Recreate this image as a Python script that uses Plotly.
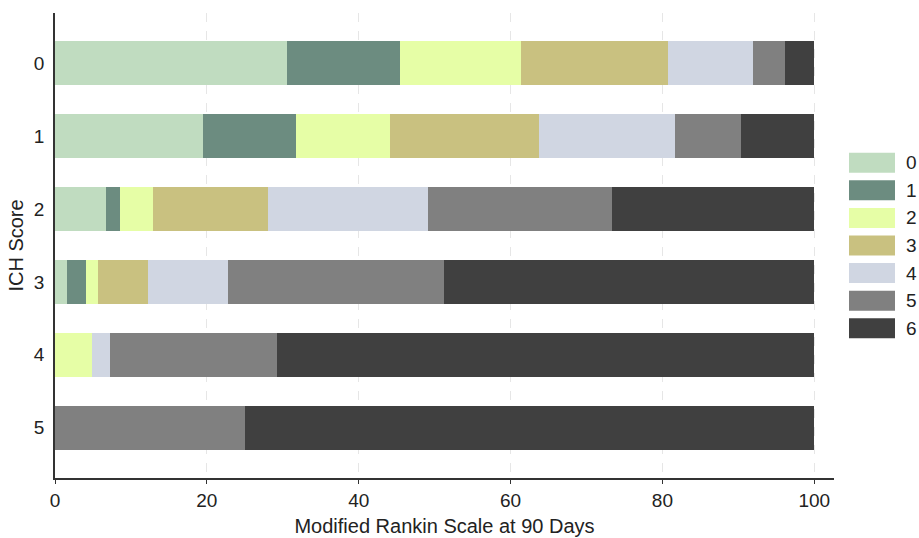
import plotly.graph_objects as go

# ICH score groups (rows) and modified Rankin Scale outcome categories (stacked)
ich_scores = [0, 1, 2, 3, 4, 5]
mrs_levels = ["0", "1", "2", "3", "4", "5", "6"]

# Percentage of patients in each mRS category, per ICH score
mrs0 = [30.5, 19.5, 6.7, 1.6, 0.0, 0.0]
mrs1 = [14.9, 12.2, 1.8, 2.5, 0.0, 0.0]
mrs2 = [16.0, 12.4, 4.4, 1.6, 4.9, 0.0]
mrs3 = [19.4, 19.7, 15.2, 6.5, 0.0, 0.0]
mrs4 = [11.1, 17.8, 21.0, 10.6, 2.4, 0.0]
mrs5 = [4.3, 8.7, 24.2, 28.4, 22.0, 25.0]
mrs6 = [3.8, 9.7, 26.7, 48.8, 70.7, 75.0]

series = [mrs0, mrs1, mrs2, mrs3, mrs4, mrs5, mrs6]
colors = ["#c0dcc0", "#6c8c80", "#e6fea6", "#c9c180", "#d0d6e2", "#808080", "#404040"]

x_ticks = [0, 20, 40, 60, 80, 100]

FONT = "Liberation Sans, Arial, Helvetica, sans-serif"
TEXT = "#222222"
W, H = 919, 538
ML, MR, MT, MB = 55, 85, 13, 60

fig = go.Figure()
for name, vals, col in zip(mrs_levels, series, colors):
    fig.add_trace(go.Bar(
        y=ich_scores, x=vals, name=name, orientation="h",
        marker=dict(color=col, line=dict(width=0)),
        width=0.6, showlegend=False,
    ))

# Legend drawn as wide swatches on the right
plot_w = W - ML - MR
plot_h = H - MT - MB
def px_to_paper_x(px):
    return (px - ML) / plot_w
def px_to_paper_y(py):
    return (H - MB - py) / plot_h

shapes = []
annotations = []
first_center, step = 162.7, 27.6
for i, (name, col) in enumerate(zip(mrs_levels, colors)):
    cy = first_center + i * step
    shapes.append(dict(
        type="rect", xref="paper", yref="paper",
        x0=px_to_paper_x(849), x1=px_to_paper_x(895),
        y0=px_to_paper_y(cy + 10), y1=px_to_paper_y(cy - 10),
        fillcolor=col, line=dict(width=0), layer="above",
    ))
    annotations.append(dict(
        xref="paper", yref="paper", x=px_to_paper_x(904), y=px_to_paper_y(cy),
        text=name, showarrow=False, xanchor="left", yanchor="middle",
        font=dict(family=FONT, size=19, color=TEXT),
    ))

fig.update_layout(
    barmode="stack",
    width=W, height=H,
    margin=dict(l=ML, r=MR, t=MT, b=MB),
    paper_bgcolor="white", plot_bgcolor="white",
    font=dict(family=FONT, size=19, color=TEXT),
    shapes=shapes,
    annotations=annotations,
    xaxis=dict(
        range=[0, 102.6], tickvals=x_ticks, ticktext=[str(t) for t in x_ticks],
        showgrid=True, gridcolor="#e6e6e6", griddash="dash", gridwidth=1,
        showline=True, linecolor="#333333", linewidth=1.5,
        ticks="outside", ticklen=4, tickcolor="#333333", tickwidth=1,
        zeroline=False, automargin=False,
        title=dict(text="Modified Rankin Scale at 90 Days", font=dict(size=20), standoff=9),
        tickfont=dict(size=19),
    ),
    yaxis=dict(
        range=[5.69, -0.69], tickvals=ich_scores, ticktext=[str(v) for v in ich_scores],
        showgrid=False, showline=True, linecolor="#333333", linewidth=1.5,
        ticks="", ticklabelstandoff=5, zeroline=False, automargin=False,
        title=dict(text="ICH Score", font=dict(size=20), standoff=5),
        tickfont=dict(size=19),
    ),
)

fig.write_html("out.html")
